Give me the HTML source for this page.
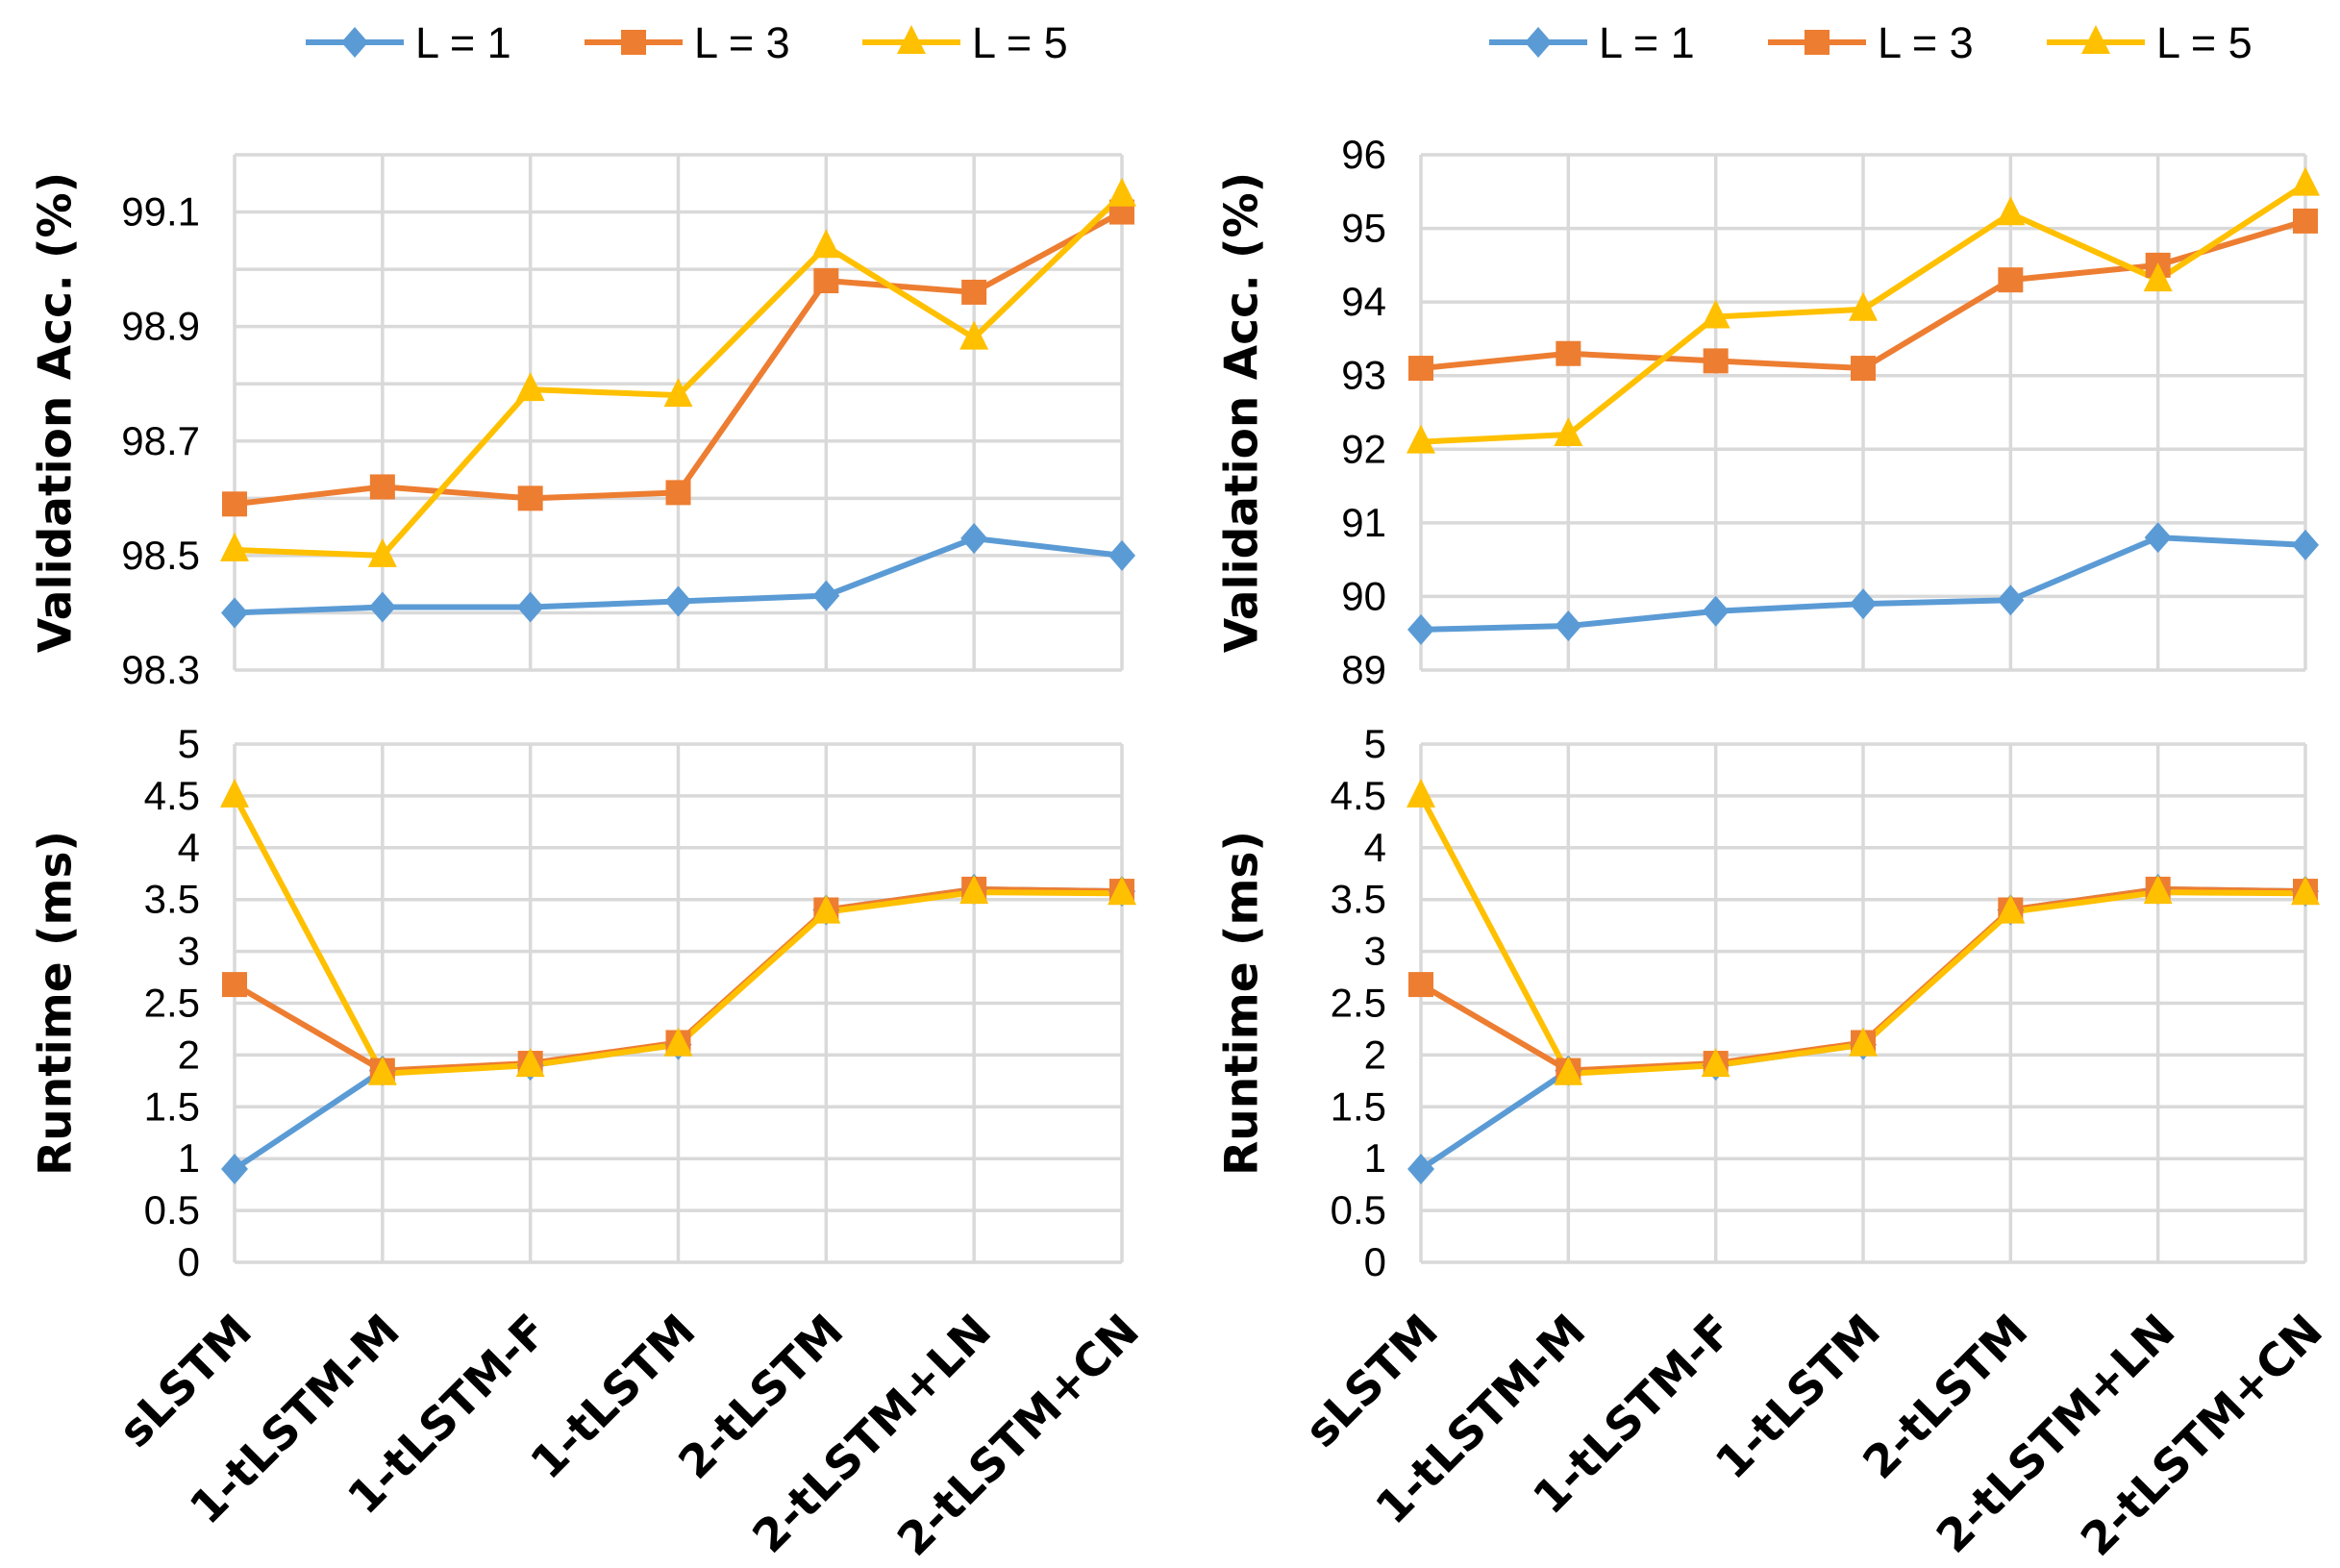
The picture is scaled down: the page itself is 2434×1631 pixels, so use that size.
<!DOCTYPE html>
<html><head><meta charset="utf-8"><style>
html,body{margin:0;padding:0;background:#fff;}
svg{display:block;font-family:"Liberation Sans",sans-serif;}
</style></head><body>
<svg id="c" width="2434" height="1631" viewBox="0 0 2434 1631" xmlns="http://www.w3.org/2000/svg"></svg>
<script>
const categories = ["sLSTM","1-tLSTM-M","1-tLSTM-F","1-tLSTM","2-tLSTM","2-tLSTM+LN","2-tLSTM+CN"];
const seriesNames = ["L = 1","L = 3","L = 5"];
const accLeftL1 = [98.40,98.41,98.41,98.42,98.43,98.53,98.50];
const accLeftL3 = [98.59,98.62,98.60,98.61,98.98,98.96,99.10];
const accLeftL5 = [98.51,98.50,98.79,98.78,99.04,98.88,99.13];
const accRightL1 = [89.55,89.6,89.8,89.9,89.95,90.8,90.7];
const accRightL3 = [93.1,93.3,93.2,93.1,94.3,94.5,95.1];
const accRightL5 = [92.1,92.2,93.8,93.9,95.2,94.3,95.6];
const runL1 = [0.9,1.85,1.9,2.1,3.4,3.6,3.58];
const runL3 = [2.68,1.85,1.92,2.12,3.4,3.6,3.58];
const runL5 = [4.5,1.82,1.9,2.1,3.38,3.57,3.56];
const accLeftTicks = ["98.3","98.5","98.7","98.9","99.1"];
const accRightTicks = ["89","90","91","92","93","94","95","96"];
const runTicks = ["0","0.5","1","1.5","2","2.5","3","3.5","4","4.5","5"];

const NS="http://www.w3.org/2000/svg";
const svg=document.getElementById('c');
const colors=["#5B9BD5","#ED7D31","#FFC000"];
function mk(tag,attrs,parent){const e=document.createElementNS(NS,tag);for(const k in attrs)e.setAttribute(k,attrs[k]);(parent||svg).appendChild(e);return e;}

function marker(g,type,x,y,color){
  let e;
  if(type===0){e=mk('polygon',{points:`${x},${y-16} ${x+14},${y} ${x},${y+16} ${x-14},${y}`,fill:color},g);}
  else if(type===1){e=mk('rect',{x:x-13,y:y-13,width:26,height:26,fill:color},g);}
  else {e=mk('polygon',{points:`${x},${y-18} ${x+15},${y+12} ${x-15},${y+12}`,fill:color},g);}
  return e;
}

function panel(name,x0,x1,y0,y1,ymin,ymax,gridStep,ticks,title,series,showX){
  const g=mk('g',{});
  
  
  const xs=i=>x0+(x1-x0)*i/(categories.length-1);
  const ys=v=>y1-(y1-y0)*(v-ymin)/(ymax-ymin);
  const n=Math.round((ymax-ymin)/gridStep);
  for(let k=0;k<=n;k++){const yy=ys(ymin+k*gridStep);const l=mk('line',{x1:x0,x2:x1,y1:yy,y2:yy,stroke:'#D9D9D9','stroke-width':3.5},g);}
  for(let i=0;i<categories.length;i++){const xx=xs(i);const l=mk('line',{x1:xx,x2:xx,y1:y0,y2:y1,stroke:'#D9D9D9','stroke-width':3.5},g);}
  ticks.forEach(t=>{const tx=mk('text',{x:x0-36,y:ys(parseFloat(t))+14,'text-anchor':'end','font-size':42,fill:'#000'},g);tx.textContent=t;});
  const cy=(y0+y1)/2;const tx=x0-186;
  const tt=mk('text',{x:tx,y:cy,'text-anchor':'middle','font-size':47,'font-weight':'bold','font-family':'"DejaVu Sans",sans-serif',transform:`rotate(-90 ${tx} ${cy})`,'dominant-baseline':'central'},g);tt.textContent=title;
  
  series.forEach((vals,s)=>{
    const pts=vals.map((v,i)=>`${xs(i)},${ys(v)}`).join(' ');
    const pl=mk('polyline',{points:pts,fill:'none',stroke:colors[s],'stroke-width':6,'stroke-linejoin':'round'},g);
    
  });
  series.forEach((vals,s)=>{
    vals.forEach((v,i)=>{const m=marker(g,s,xs(i),ys(v),colors[s]);});
  });
  if(showX){
    categories.forEach((c,i)=>{const xx=xs(i)-4,yy=y1+50;const t=mk('text',{x:xx,y:yy,'text-anchor':'end','font-size':47,'font-weight':'bold','font-family':'"DejaVu Sans",sans-serif',transform:`rotate(-45 ${xx} ${yy})`,'dominant-baseline':'hanging'},g);t.textContent=c;});
  }
}
function legend(xs){
  const g=mk('g',{});
  seriesNames.forEach((n,s)=>{
    const x=xs[s],y=44;
    const l=mk('line',{x1:x,x2:x+102,y1:y,y2:y,stroke:colors[s],'stroke-width':6},g);
    const m=marker(g,s,x+51,y,colors[s]);
    const t=mk('text',{x:x+114,y:y+16,'font-size':45},g);t.textContent=n;
  });
}
legend([318,608,897]);
legend([1549,1839,2129]);
panel('accuracy-left',244,1167,161,697,98.3,99.2,0.1,accLeftTicks,'Validation Acc. (%)',[accLeftL1,accLeftL3,accLeftL5],false);
panel('accuracy-right',1478,2398,161,697,89,96,1,accRightTicks,'Validation Acc. (%)',[accRightL1,accRightL3,accRightL5],false);
panel('runtime-left',244,1167,774,1313,0,5,0.5,runTicks,'Runtime (ms)',[runL1,runL3,runL5],true);
panel('runtime-right',1478,2398,774,1313,0,5,0.5,runTicks,'Runtime (ms)',[runL1,runL3,runL5],true);
</script>
</body></html>
